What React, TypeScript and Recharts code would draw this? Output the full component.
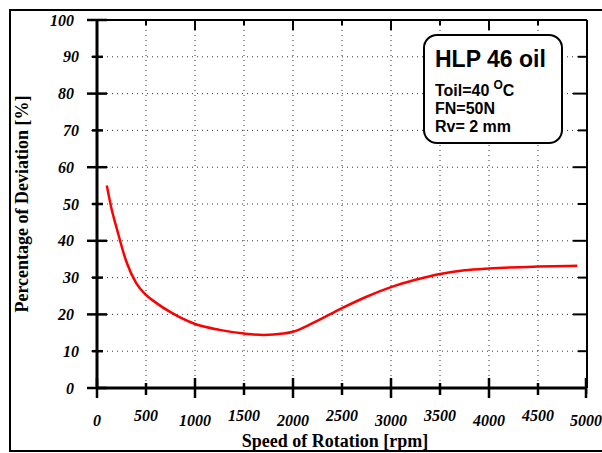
import { LineChart, Line, XAxis, YAxis, CartesianGrid, ReferenceLine } from 'recharts';

// speed of rotation [rpm] and deviation [%]
const rpm = [100, 150, 200, 300, 400, 500, 600, 750, 1000, 1250, 1500, 1700, 1900, 2000, 2200, 2500, 2750, 3000, 3250, 3500, 3750, 4000, 4500, 4900];
const deviation = [55, 48.5, 43.5, 34.3, 28.5, 25.3, 23.2, 20.6, 17.4, 15.8, 14.8, 14.4, 14.8, 15.3, 17.6, 21.7, 24.8, 27.4, 29.4, 31, 32, 32.5, 33, 33.2];

const xTicks = [0, 500, 1000, 1500, 2000, 2500, 3000, 3500, 4000, 4500, 5000];
const yTicks = [0, 10, 20, 30, 40, 50, 60, 70, 80, 90, 100];

const legendTitle = 'HLP 46 oil';
const legendLines = ['FN=50N', 'Rv= 2 mm'];

const data = rpm.map((r, i) => ({ rpm: r, dev: deviation[i] }));

const X_MAX = 5000;
const Y_MAX = 100;

const SERIF = '"Liberation Serif", "Times New Roman", serif';
const SANS = '"Liberation Sans", Arial, sans-serif';

// recharts puts tick text tickSize + tickMargin away from the axis line
const GAP = 8;

function BottomTick(props: any) {
	const { x, y, payload } = props;
	const major = payload.value % 1000 === 0;
	const ay = y - GAP;
	const up = major ? 10 : 5;
	const down = major ? 10 : 7;
	return (
		<g>
			<rect x={x - 1.25} y={ay - up} width={2.5} height={up + down} fill="#000" />
			<text
				x={x}
				y={ay + (major ? 38 : 33)}
				textAnchor="middle"
				fill="#000"
				fontFamily={SERIF}
				fontSize={16}
				fontStyle="italic"
				fontWeight={700}
			>
				{payload.value}
			</text>
		</g>
	);
}

function LeftTick(props: any) {
	const { x, y, payload } = props;
	const major = payload.value % 20 === 0;
	const ax = x + GAP;
	const l = major ? 10 : 5;
	const r = major ? 10 : 6;
	return (
		<g>
			<rect x={ax - l} y={y - 1.25} width={l + r} height={2.5} fill="#000" />
			<text
				x={ax - (major ? 23 : 18)}
				y={y}
				dy="0.35em"
				textAnchor="end"
				fill="#000"
				fontFamily={SERIF}
				fontSize={16}
				fontStyle="italic"
				fontWeight={700}
			>
				{payload.value}
			</text>
		</g>
	);
}

export default function App() {
	return (
		<div>
			<div style={styles.frame} />
			<div style={styles.chart}>
				<LineChart width={602} height={453} data={data} margin={{ top: 20, right: 15, left: 67, bottom: 35 }}>
					<CartesianGrid stroke="#333" strokeDasharray="1 4" />
					<XAxis
						dataKey="rpm"
						type="number"
						domain={[0, X_MAX]}
						ticks={xTicks}
						tick={BottomTick}
						axisLine={{ stroke: '#000', strokeWidth: 3 }}
					/>
					<YAxis
						type="number"
						domain={[0, Y_MAX]}
						ticks={yTicks}
						width={30}
						tick={LeftTick}
						axisLine={{ stroke: '#000', strokeWidth: 3 }}
					/>
					<ReferenceLine x={X_MAX} stroke="#000" strokeWidth={2} />
					<ReferenceLine y={Y_MAX} stroke="#000" strokeWidth={2} />
					{yTicks.map((v) => (
						<ReferenceLine
							key={'r' + v}
							segment={[
								{ x: X_MAX - (v % 20 === 0 ? 143 : 92), y: v },
								{ x: X_MAX, y: v },
							]}
							stroke="#000"
							strokeWidth={2}
						/>
					))}
					{xTicks.map((v) => (
						<ReferenceLine
							key={'t' + v}
							segment={[
								{ x: v, y: Y_MAX },
								{ x: v, y: Y_MAX - (v % 1000 === 0 ? 2.7 : 1.4) },
							]}
							stroke="#000"
							strokeWidth={2}
						/>
					))}
					<Line type="monotone" dataKey="dev" stroke="#ff0000" strokeWidth={2.5} dot={false} isAnimationActive={false} />
				</LineChart>
			</div>
			<div style={styles.xTitle}>Speed of Rotation [rpm]</div>
			<div style={styles.yTitle}>Percentage of Deviation [%]</div>
			<div style={styles.box}>
				<div style={{ ...styles.boxLine, top: 11.5, fontSize: 23, lineHeight: '23px' }}>{legendTitle}</div>
				<div style={{ ...styles.boxLine, top: 46.5 }}>
					Toil=40<span style={styles.sup}>O</span>C
				</div>
				{legendLines.map((t, i) => (
					<div key={t} style={{ ...styles.boxLine, top: 64.5 + i * 18 }}>
						{t}
					</div>
				))}
			</div>
		</div>
	);
}

const styles: Record<string, React.CSSProperties> = {
	frame: {
		position: 'absolute',
		left: 9,
		top: 9,
		width: 593,
		height: 443,
		boxSizing: 'border-box',
		borderLeft: '2px solid #000',
		borderTop: '2px solid #000',
		borderBottom: '2px solid #000',
	},
	chart: {
		position: 'absolute',
		left: 0,
		top: 0,
	},
	xTitle: {
		position: 'absolute',
		left: 135,
		top: 432,
		width: 400,
		textAlign: 'center',
		fontFamily: SERIF,
		fontSize: 18,
		lineHeight: '18px',
		fontWeight: 700,
		whiteSpace: 'nowrap',
	},
	yTitle: {
		position: 'absolute',
		left: -128,
		top: 195,
		width: 300,
		height: 18,
		textAlign: 'center',
		fontFamily: SERIF,
		fontSize: 18,
		lineHeight: '18px',
		fontWeight: 700,
		whiteSpace: 'nowrap',
		transform: 'rotate(-90deg)',
	},
	box: {
		position: 'absolute',
		left: 423,
		top: 34,
		width: 140,
		height: 110,
		boxSizing: 'border-box',
		border: '2px solid #000',
		borderRadius: 14,
		background: '#fff',
	},
	boxLine: {
		position: 'absolute',
		left: 10,
		fontFamily: SANS,
		fontSize: 16,
		lineHeight: '16px',
		fontWeight: 700,
		whiteSpace: 'nowrap',
	},
	sup: {
		fontSize: 12,
		position: 'relative',
		top: -7,
		marginLeft: 4,
	},
};
